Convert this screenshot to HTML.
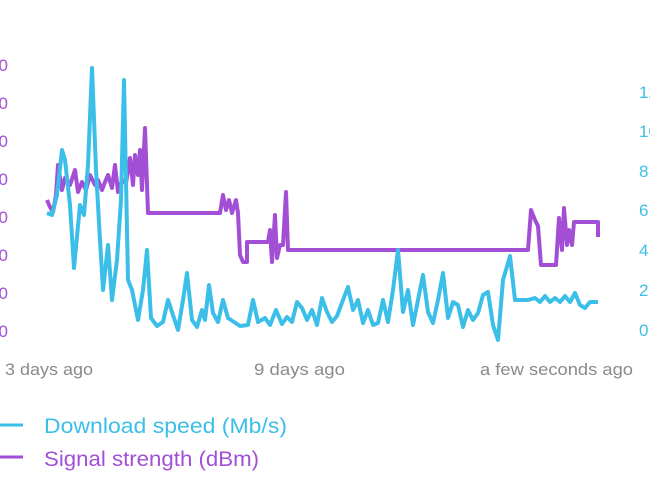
<!DOCTYPE html>
<html><head><meta charset="utf-8"><style>
html,body{margin:0;padding:0;background:#fff;}
svg{display:block;font-family:"Liberation Sans",sans-serif;}
</style></head><body>
<svg width="650" height="487" viewBox="0 0 650 487" xmlns="http://www.w3.org/2000/svg">
<g fill="#a24fd6" font-size="17" text-anchor="end">
<text x="8" y="71">-20</text><text x="8" y="109">-30</text><text x="8" y="147">-40</text><text x="8" y="185">-50</text><text x="8" y="223">-60</text><text x="8" y="261">-70</text><text x="8" y="299">-80</text><text x="8" y="337">-90</text>
</g>
<g fill="#3bbfe8" font-size="17" text-anchor="start">
<text x="639" y="98">12</text><text x="639" y="137">10</text><text x="639" y="177">8</text><text x="639" y="216">6</text><text x="639" y="256">4</text><text x="639" y="296">2</text><text x="639" y="336">0</text>
</g>
<g fill="#8a8a8a" font-size="17">
<text x="5" y="375" textLength="88" lengthAdjust="spacingAndGlyphs">3 days ago</text>
<text x="254" y="375" textLength="91" lengthAdjust="spacingAndGlyphs">9 days ago</text>
<text x="480" y="375" textLength="153" lengthAdjust="spacingAndGlyphs">a few seconds ago</text>
</g>
<polyline fill="none" stroke="#a24fd6" stroke-width="4" stroke-linejoin="round" points="47,200 50,207 53,212 56,195 58,165 62,190 65,178 70,185 75,170 78,192 82,182 86,190 90,175 95,185 98,180 102,190 105,182 108,175 112,188 115,165 118,192 122,180 126,183 130,158 133,185 135,155 138,175 140,150 142,190 145,128 148,213 220,213 223,195 226,210 229,200 232,213 236,200 238,213 240,255 243,262 247,262 247,242 268,242 270,230 272,262 275,215 277,258 280,245 283,245 286,192 288,250 528,250 531,210 535,220 538,226 541,265 556,265 559,218 562,250 564,208 567,245 569,230 572,245 574,222 598,222 598,237"/>
<polyline fill="none" stroke="#3bbfe8" stroke-width="4" stroke-linejoin="round" points="47,213 52,215 57,195 62,150 65,160 70,205 74,268 80,205 84,215 88,165 92,68 96,170 100,240 103,290 108,245 112,300 117,260 121,200 124,80 128,280 132,290 138,320 143,290 147,250 151,318 157,326 163,322 168,300 173,315 178,330 183,300 187,273 192,320 197,327 202,310 205,320 209,285 213,313 218,322 223,300 228,318 234,322 240,326 248,325 253,300 258,322 265,318 270,325 276,310 282,324 287,317 292,322 297,302 302,308 307,320 312,310 317,325 322,298 327,312 332,322 337,316 343,300 348,287 353,310 358,300 363,323 368,310 373,325 378,323 383,300 388,322 393,290 398,250 403,312 408,290 413,325 418,300 423,275 428,312 433,323 438,300 443,273 448,318 453,302 458,305 463,327 468,310 473,320 478,313 483,295 488,292 493,325 498,340 503,280 510,256 515,300 520,300 528,300 535,298 540,302 545,296 550,302 555,298 560,302 565,296 570,302 575,293 580,305 585,308 590,302 598,302"/>
<line x1="0" y1="425" x2="23" y2="425" stroke="#3bbfe8" stroke-width="3"/>
<line x1="0" y1="457" x2="23" y2="457" stroke="#a24fd6" stroke-width="3"/>
<text x="44" y="433" fill="#3bbfe8" font-size="21" textLength="243" lengthAdjust="spacingAndGlyphs">Download speed (Mb/s)</text>
<text x="44" y="466" fill="#a24fd6" font-size="21" textLength="215" lengthAdjust="spacingAndGlyphs">Signal strength (dBm)</text>
</svg>
</body></html>
